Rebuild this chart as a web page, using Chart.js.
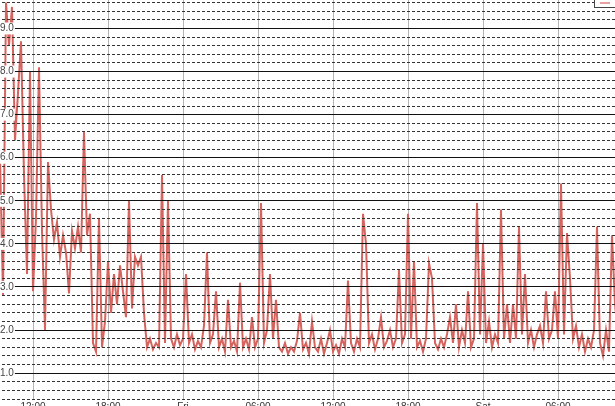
<!DOCTYPE html>
<html>
<head>
<meta charset="utf-8">
<script src="https://cdn.jsdelivr.net/npm/chart.js@4"></script>
<style>
  html, body { margin: 0; padding: 0; background: #fff; }
  #wrap { position: relative; width: 615px; height: 406px; overflow: hidden; }
  #chart { position: absolute; left: -20px; top: -22px; }
  /* bottom edge of the legend box, mostly off the top of the picture */
  #legend { position: absolute; left: 594px; top: -13px; width: 30px; height: 19px; border: 1px solid #444; background: #fff; }
  #legend span { position: absolute; left: 5px; top: 14px; width: 10px; height: 2px; background: #e8a0a0; }
</style>
</head>
<body>
<div id="wrap">
  <canvas id="chart" width="667" height="437"></canvas>
  <div id="legend"><span></span></div>
</div>
<script>
// one reading per sample
const values = [
  5.0, 6.0, 2.8, 9.6, 8.6, 9.5, 6.4, 7.5, 8.7, 5.6,
  3.3, 8.0, 2.9, 4.6, 8.1, 4.3, 2.0, 5.9, 4.8, 4.1,
  4.5, 3.7, 4.2, 3.8, 2.85, 4.3, 3.9, 4.4, 3.8, 6.6,
  4.2, 4.7, 1.7, 1.5, 4.6, 1.6, 2.2, 3.6, 2.4, 3.3,
  2.6, 3.5, 2.9, 2.3, 5.0, 2.5, 3.7, 3.5, 3.7, 2.4,
  1.6, 1.8, 1.55, 1.7, 1.6, 5.6, 1.7, 5.0, 1.8, 1.6,
  1.9, 1.65, 1.8, 3.3, 1.7, 1.9, 1.55, 1.75, 1.6, 2.1,
  3.8, 1.7, 1.9, 2.9, 1.6, 1.8, 1.5, 2.7, 1.6, 1.75,
  1.5, 3.1, 1.6, 1.8, 1.55, 2.3, 1.6, 1.8, 4.95, 1.7,
  2.0, 3.3, 1.8, 2.7, 1.6, 1.5, 1.7, 1.45, 1.6, 1.5,
  1.75, 2.4, 1.55, 1.7, 1.45, 2.2, 1.6, 1.5, 1.8, 1.45,
  1.7, 2.0, 1.5, 1.65, 1.45, 1.8, 1.6, 3.15, 1.7, 1.5,
  1.8, 1.6, 4.7, 4.0, 1.7, 1.9, 1.55, 1.8, 2.3, 1.6,
  1.75, 2.0, 1.6, 1.8, 3.4, 1.7, 1.9, 4.7, 1.8, 3.6,
  1.6, 1.75, 1.5, 1.8, 3.55, 3.2, 1.7, 1.55, 1.8, 1.6,
  1.9, 2.3, 1.7, 2.6, 1.6, 2.0, 1.7, 2.9, 1.6, 1.8,
  4.95, 1.9, 4.0, 1.7, 2.2, 1.6, 1.9, 1.7, 4.8, 1.8,
  2.6, 1.7, 2.6, 1.8, 4.4, 1.9, 3.3, 1.7, 2.0, 1.6,
  1.9, 2.1, 1.7, 2.9, 1.8, 2.0, 2.9, 1.8, 5.4, 1.9,
  4.25, 3.2, 1.8, 2.1, 1.6, 1.9, 1.5, 1.8, 1.6, 2.0,
  4.4, 1.7, 1.4, 2.0, 1.5, 4.2, 2.6, 1.9, 2.2, 1.8,
  2.0
];

const xTickPos = [12, 37, 62, 87, 112, 137, 162, 187];
const xTickLabels = ['12:00', '18:00', 'Fri', '06:00', '12:00', '18:00', 'Sat', '06:00'];
const yLabels = [1, 2, 3, 4, 5, 6, 7, 8, 9];
const yMin = 0.4;
const yMax = 9.8;

const isWhole = v => Math.abs(v - Math.round(v)) < 1e-6;
const onWhole = c => !!c.tick && isWhole(c.tick.value);
const font = { family: 'Liberation Sans', size: 10 };

const points = values.map((v, i) => ({ x: i, y: v }));

new Chart(document.getElementById('chart'), {
  type: 'line',
  data: {
    datasets: [{
      data: points,
      borderColor: '#d5645f',
      borderWidth: 2,
      pointRadius: 0,
      tension: 0,
      fill: false
    }]
  },
  options: {
    responsive: false,
    animation: false,
    devicePixelRatio: 1,
    layout: { autoPadding: false, padding: { left: 11, right: 0, top: 12, bottom: 0 } },
    plugins: { legend: { display: false }, tooltip: { enabled: false } },
    scales: {
      x: {
        type: 'linear',
        min: 0,
        max: values.length - 1,
        afterBuildTicks: ax => { ax.ticks = xTickPos.map(v => ({ value: v })); },
        grid: { color: '#b4b4b4', drawTicks: false },
        border: { display: false },
        ticks: {
          autoSkip: false, maxRotation: 0, padding: 2, font, color: '#333',
          callback: (v, i) => xTickLabels[i]
        }
      },
      y: {
        position: 'left',
        min: yMin,
        max: yMax,
        // solid lines on whole numbers, dashed every 0.2, drawn over the line
        grid: { z: 1, drawTicks: false, color: c => onWhole(c) ? '#111' : '#333' },
        border: { display: false, dash: c => onWhole(c) ? [] : [3, 2] },
        ticks: {
          z: 1, stepSize: 0.2, autoSkip: false, mirror: true, padding: 3, font, color: '#444',
          callback: v => isWhole(v) ? v.toFixed(1) : '',
          showLabelBackdrop: c => onWhole(c),
          backdropColor: '#fff',
          backdropPadding: { left: 1, right: 1, top: 0, bottom: 0 }
        }
      },
      y2: {
        position: 'right',
        min: yMin,
        max: yMax,
        afterBuildTicks: ax => { ax.ticks = yLabels.map(v => ({ value: v })); },
        grid: { display: false, drawTicks: false },
        border: { display: false },
        ticks: {
          z: 1, autoSkip: false, mirror: true, padding: 10, font, color: '#444',
          callback: v => v.toFixed(1),
          showLabelBackdrop: true,
          backdropColor: '#fff',
          backdropPadding: { left: 4, right: 2, top: 0, bottom: 0 }
        }
      }
    }
  }
});
</script>
</body>
</html>
